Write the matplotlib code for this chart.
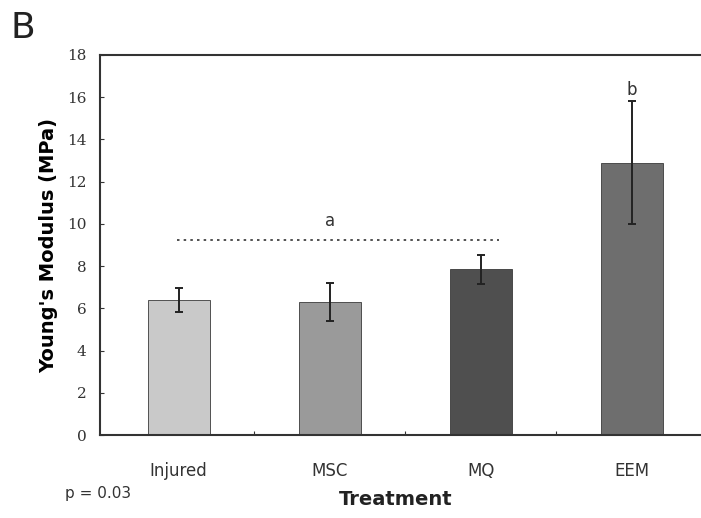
import matplotlib
matplotlib.use("Agg")
from matplotlib import pyplot as plt
import numpy as np

# 数据
treatments = ["Injured", "MSC", "MQ", "EEM"]
modulus = [6.4, 6.3, 7.85, 12.9]
modulus_err = [0.55, 0.9, 0.7, 2.9]
bar_colors = ["#c9c9c9", "#9a9a9a", "#4f4f4f", "#6e6e6e"]
y_ticks = [0, 2, 4, 6, 8, 10, 12, 14, 16, 18]

fig = plt.figure(figsize=(7.01, 5.18), dpi=100)
ax = fig.add_axes([0.143, 0.160, 0.857, 0.734])

x = np.arange(len(treatments))
ax.bar(x, modulus, width=0.41, color=bar_colors, edgecolor="#3a3a3a",
       linewidth=0.6, zorder=2)
ax.errorbar(x, modulus, yerr=modulus_err, fmt="none", ecolor="#222222",
            elinewidth=1.4, capsize=3, capthick=1.4, zorder=3)

# 显著性标记
ax.plot([-0.01, 2.12], [9.25, 9.25], linestyle=(0, (1.5, 2.5)),
        color="#333333", linewidth=1.2)
ax.text(1.0, 9.7, "a", ha="center", va="bottom", fontsize=12, color="#333333")
ax.text(3.0, 15.9, "b", ha="center", va="bottom", fontsize=12, color="#333333")

ax.set_xlim(-0.52, 3.46)
ax.set_ylim(0, 18)
ax.set_yticks(y_ticks)
ax.tick_params(axis="y", direction="in", length=3, labelsize=11,
               colors="#333333", pad=10)
ax.set_yticklabels([str(v) for v in y_ticks], family="DejaVu Serif")

# x轴刻度放在类别之间
ax.set_xticks(x[:-1] + 0.5)
ax.set_xticklabels([])
ax.tick_params(axis="x", direction="in", length=3, colors="#333333")
for xi, name in zip(x, treatments):
    ax.text(xi, -1.25, name, ha="center", va="top", fontsize=12,
            color="#333333")

for side in ["left", "top", "bottom"]:
    ax.spines[side].set_color("#333333")
    ax.spines[side].set_linewidth(1.5)
ax.spines["right"].set_visible(False)

ax.set_ylabel("Young's Modulus (MPa)", fontsize=14, fontweight="bold",
              labelpad=6)
fig.text(0.565, 0.035, "Treatment", ha="center", va="center", fontsize=14,
         fontweight="bold", color="#222222")
fig.text(0.093, 0.048, "p = 0.03", ha="left", va="center", fontsize=11,
         color="#333333")
fig.text(0.015, 0.945, "B", ha="left", va="center", fontsize=26,
         color="#222222")

plt.savefig("out.png", dpi=100)
